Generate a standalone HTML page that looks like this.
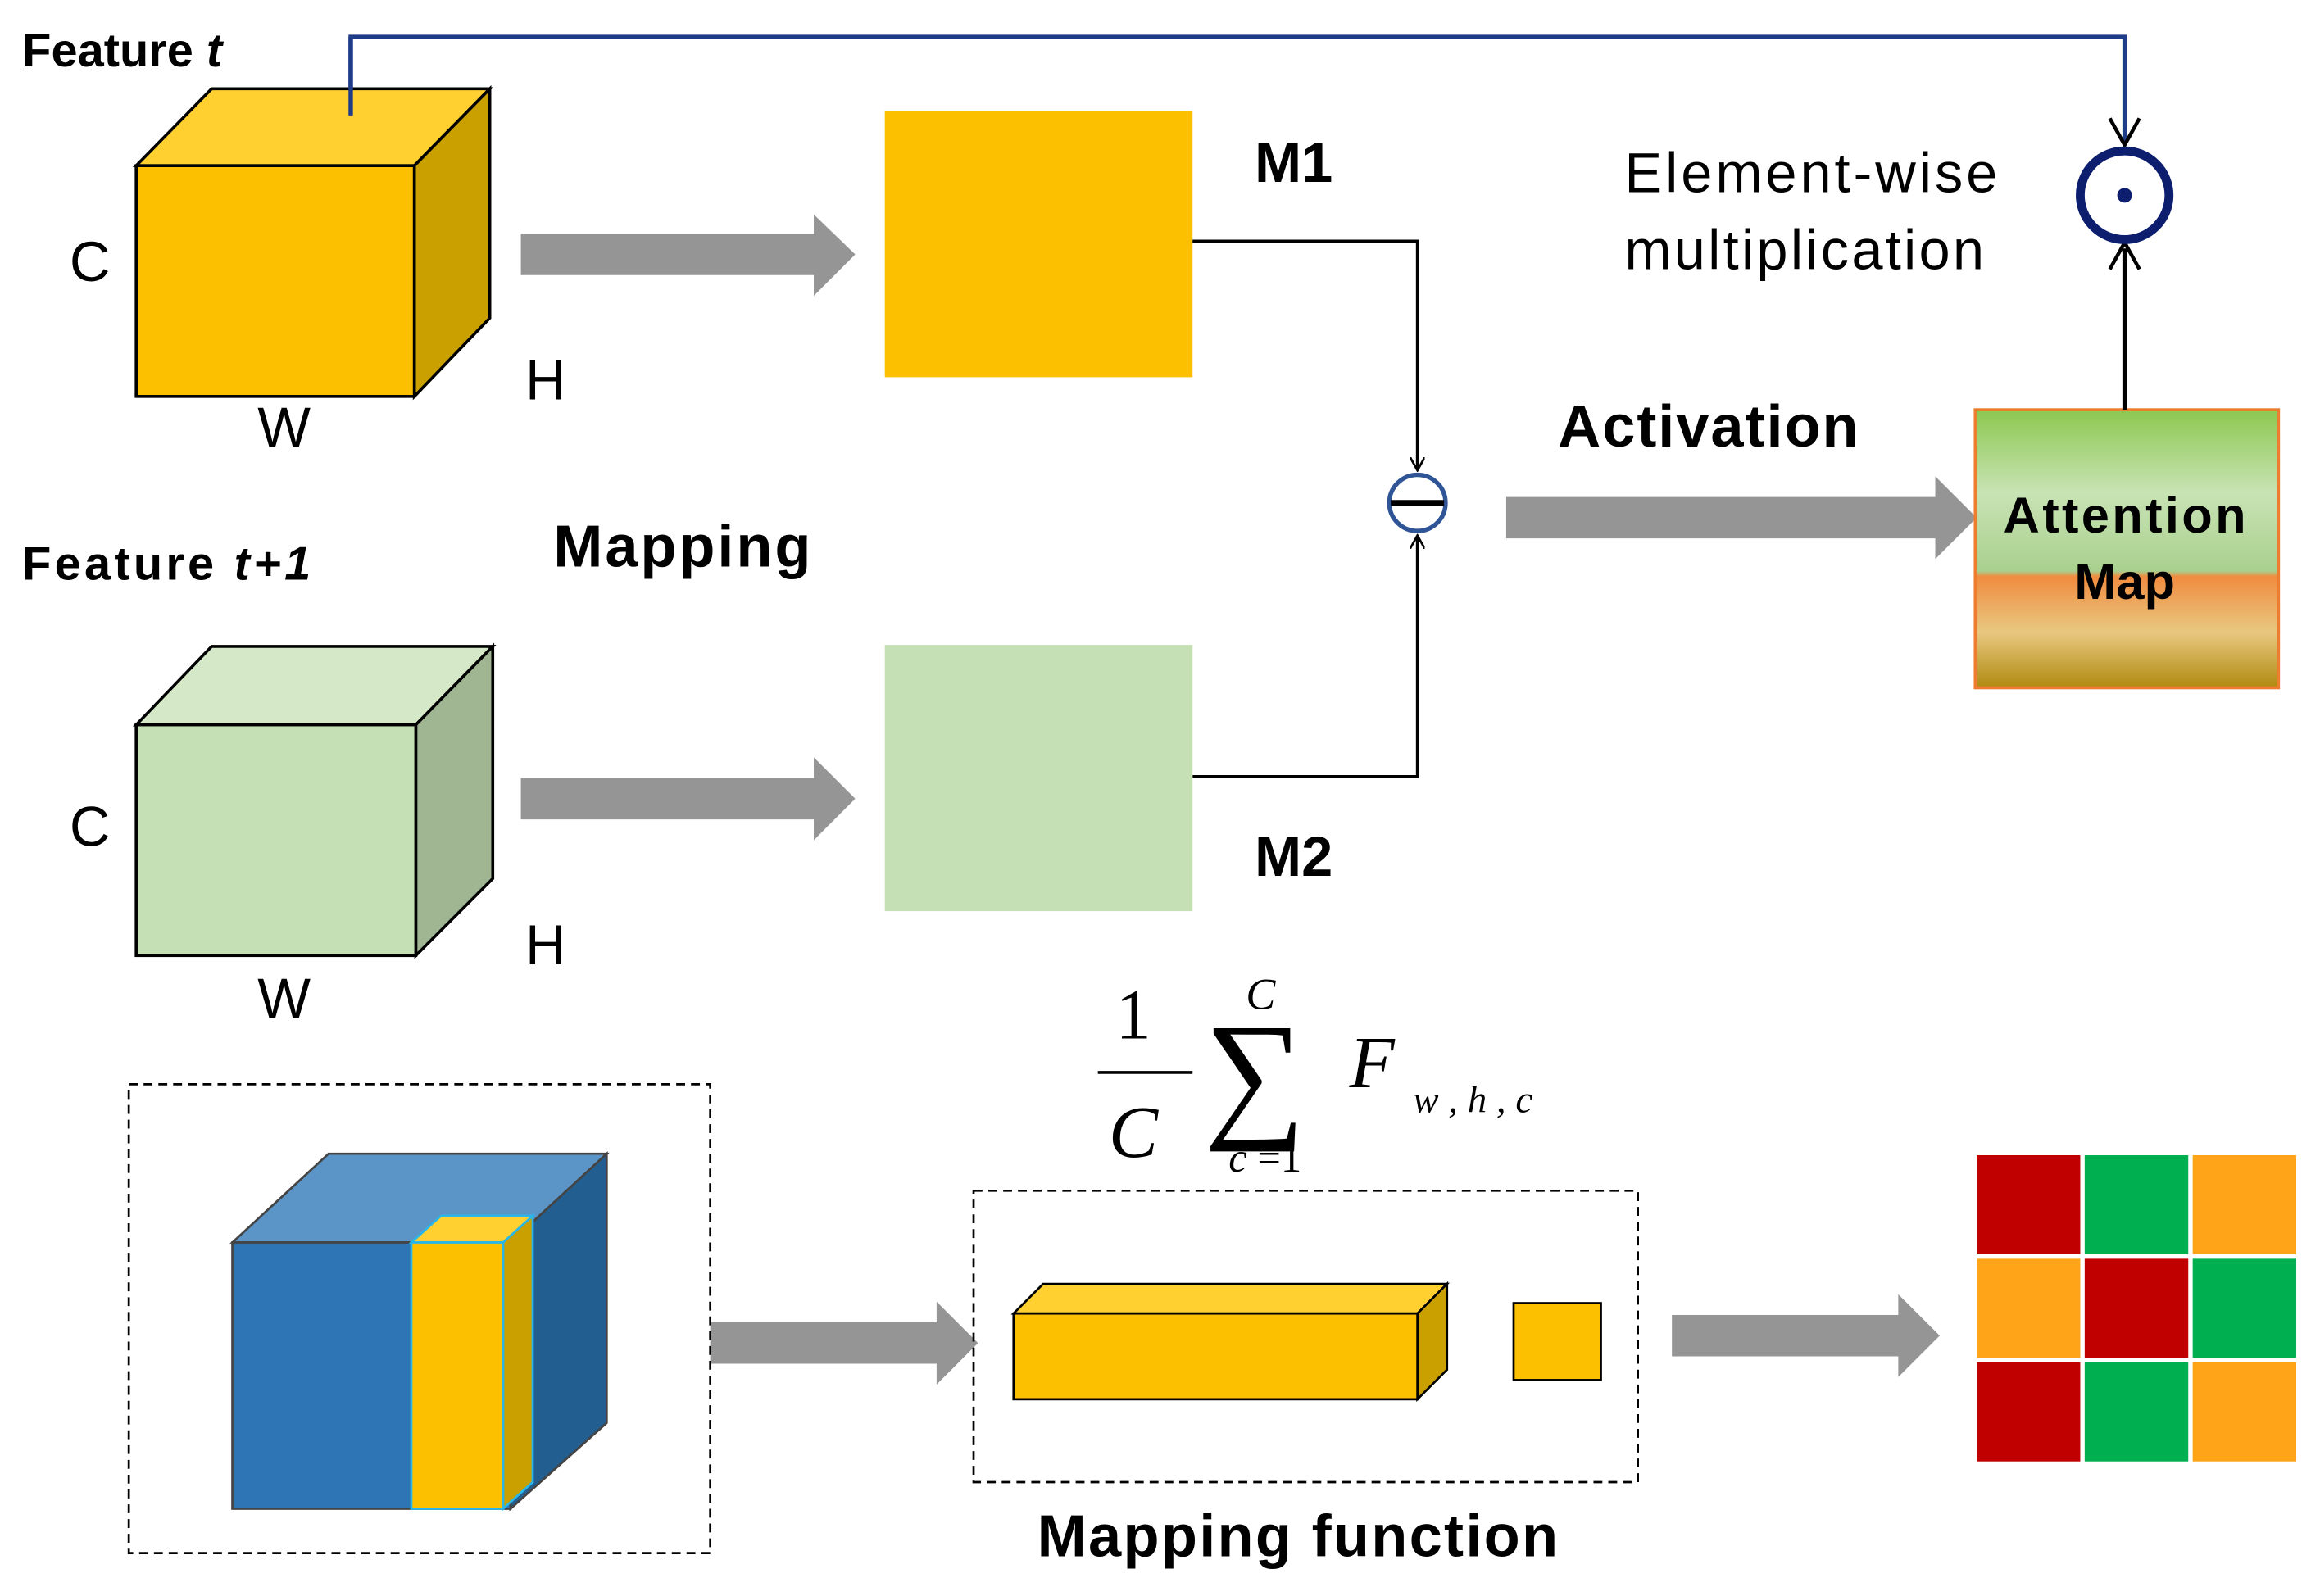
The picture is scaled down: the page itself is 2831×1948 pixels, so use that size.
<!DOCTYPE html>
<html><head><meta charset="utf-8"><style>
html,body{margin:0;padding:0;background:#fff}
svg{display:block}
text{font-family:"Liberation Sans",Arial,sans-serif}
text.m{font-family:"Liberation Serif","DejaVu Serif",serif}
</style></head><body>
<svg width="2831" height="1948" viewBox="0 0 1568 1079" xmlns="http://www.w3.org/2000/svg">
<defs>
<linearGradient id="att" x1="0" y1="0" x2="0" y2="1">
<stop offset="0" stop-color="#8CC850"/><stop offset="0.3" stop-color="#C8E3B4"/>
<stop offset="0.58" stop-color="#A9D08E"/><stop offset="0.6" stop-color="#F08C40"/>
<stop offset="0.8" stop-color="#E8C880"/><stop offset="1" stop-color="#B08A10"/>
</linearGradient>
<marker id="ah" markerWidth="10" markerHeight="10" refX="9" refY="5" orient="auto" markerUnits="userSpaceOnUse"><path d="M0,0 L9,5 L0,10" fill="none" stroke="#000" stroke-width="1.5"/></marker>
</defs>
<g fill="none" stroke="#000">
<polyline points="237,78 237,25 1436,25 1436,96" stroke="#1F3C88" stroke-width="3"/>
<path d="M1426,80 L1436,98 L1446,80" stroke="#000" stroke-width="2.5"/>
</g>
<text x="15" y="45" font-size="32" font-weight="bold">Feature <tspan font-style="italic">t</tspan></text>
<polygon points="92,112 280,112 331,60 143,60" fill="#FFD030" stroke="#000" stroke-width="2"/>
<polygon points="280,112 331,60 331,215 280,268" fill="#C9A000" stroke="#000" stroke-width="2"/>
<rect x="92" y="112" width="188" height="156" fill="#FDC000" stroke="#000" stroke-width="2"/>
<line x1="237" y1="25" x2="237" y2="78" stroke="#1F3C88" stroke-width="3"/>
<text x="47" y="190" font-size="38">C</text>
<text x="174" y="302" font-size="38">W</text>
<text x="355" y="270" font-size="38">H</text>
<g fill="#959595">
<polygon points="352,158 550,158 550,145 578,172 550,200 550,186 352,186"/>
<polygon points="352,526 550,526 550,512 578,540 550,568 550,554 352,554"/>
<polygon points="1018,336 1308,336 1308,322 1336,350 1308,378 1308,364 1018,364"/>
<polygon points="480,894 633,894 633,880 661,908 633,936 633,922 480,922"/>
<polygon points="1130,889 1283,889 1283,875 1311,903 1283,931 1283,917 1130,917"/>
</g>
<rect x="598" y="75" width="208" height="180" fill="#FDC000"/>
<text x="848" y="123" font-size="38" font-weight="bold">M1</text>
<polyline points="806,163 958,163 958,318" fill="none" stroke="#000" stroke-width="2" marker-end="url(#ah)"/>
<polyline points="806,525 958,525 958,362" fill="none" stroke="#000" stroke-width="2" marker-end="url(#ah)"/>
<circle cx="958" cy="340" r="19" fill="#fff" stroke="#2F5597" stroke-width="3"/>
<line x1="940" y1="340" x2="976" y2="340" stroke="#000" stroke-width="4"/>
<text x="15" y="392" font-size="32" font-weight="bold" textLength="195">Feature <tspan font-style="italic">t+1</tspan></text>
<polygon points="92,490 281,490 333,437 143,437" fill="#D5E8C8" stroke="#000" stroke-width="2"/>
<polygon points="281,490 333,437 333,594 281,646" fill="#A0B592" stroke="#000" stroke-width="2"/>
<rect x="92" y="490" width="189" height="156" fill="#C5E0B4" stroke="#000" stroke-width="2"/>
<text x="47" y="572" font-size="38">C</text>
<text x="174" y="688" font-size="38">W</text>
<text x="355" y="652" font-size="38">H</text>
<text x="374" y="383" font-size="40" font-weight="bold" textLength="174">Mapping</text>
<rect x="598" y="436" width="208" height="180" fill="#C5E0B4"/>
<text x="848" y="592" font-size="38" font-weight="bold">M2</text>
<text x="1053" y="302" font-size="40" font-weight="bold" textLength="203">Activation</text>
<rect x="1335" y="277" width="205" height="188" fill="url(#att)" stroke="#ED7D31" stroke-width="2"/>
<text x="1436" y="360" font-size="34" font-weight="bold" text-anchor="middle" textLength="164">Attention</text>
<text x="1436" y="405" font-size="34" font-weight="bold" text-anchor="middle">Map</text>
<line x1="1436" y1="277" x2="1436" y2="168" stroke="#000" stroke-width="3"/>
<path d="M1426,182 L1436,164 L1446,182" fill="none" stroke="#000" stroke-width="2.5"/>
<circle cx="1436" cy="132" r="30" fill="#fff" stroke="#0D1E6E" stroke-width="6"/>
<circle cx="1436" cy="132" r="5" fill="#0D1E6E"/>
<text x="1098" y="130" font-size="38" textLength="252">Element-wise</text>
<text x="1098" y="182" font-size="38" textLength="243">multiplication</text>
<text class="m" x="766" y="702" font-size="48" text-anchor="middle">1</text>
<line x1="742" y1="725" x2="806" y2="725" stroke="#000" stroke-width="2"/>
<text class="m" x="766" y="782" font-size="50" text-anchor="middle" font-style="italic">C</text>
<text class="m" x="848" y="758" font-size="96" text-anchor="middle">∑</text>
<text class="m" x="852" y="682" font-size="30" text-anchor="middle" font-style="italic">C</text>
<text class="m" x="855" y="792" font-size="28" text-anchor="middle"><tspan font-style="italic">c</tspan> =1</text>
<text class="m" x="912" y="735" font-size="50" font-style="italic">F</text>
<text class="m" x="955" y="752" font-size="26" font-style="italic">w , h , c</text>
<rect x="87" y="733" width="393" height="317" fill="none" stroke="#000" stroke-width="1.5" stroke-dasharray="6,4"/>
<rect x="658" y="805" width="449" height="197" fill="none" stroke="#000" stroke-width="1.5" stroke-dasharray="6,4"/>
<polygon points="157,840 345,840 410,780 222,780" fill="#5B95C8" stroke="#444" stroke-width="1.5"/>
<polygon points="345,840 410,780 410,962 345,1020" fill="#235E91" stroke="#444" stroke-width="1.5"/>
<rect x="157" y="840" width="188" height="180" fill="#2E75B6" stroke="#444" stroke-width="1.5"/>
<polygon points="278,840 340,840 360,822 298,822" fill="#FFD030" stroke="#29B6E8" stroke-width="1.5"/>
<polygon points="340,840 360,822 360,1002 340,1020" fill="#C9A000" stroke="#29B6E8" stroke-width="1.5"/>
<rect x="278" y="840" width="62" height="180" fill="#FDC000" stroke="#29B6E8" stroke-width="1.5"/>
<polygon points="685,888 958,888 978,868 705,868" fill="#FFD030" stroke="#000" stroke-width="1.5"/>
<polygon points="958,888 978,868 978,926 958,946" fill="#C9A000" stroke="#000" stroke-width="1.5"/>
<rect x="685" y="888" width="273" height="58" fill="#FDC000" stroke="#000" stroke-width="1.5"/>
<rect x="1023" y="881" width="59" height="52" fill="#FDC000" stroke="#000" stroke-width="1.5"/>
<text x="877" y="1052" font-size="40" font-weight="bold" text-anchor="middle" textLength="352">Mapping function</text>
<rect x="1336" y="781" width="70" height="67" fill="#C00000"/>
<rect x="1409" y="781" width="70" height="67" fill="#00B050"/>
<rect x="1482" y="781" width="70" height="67" fill="#FFA318"/>
<rect x="1336" y="851" width="70" height="67" fill="#FFA318"/>
<rect x="1409" y="851" width="70" height="67" fill="#C00000"/>
<rect x="1482" y="851" width="70" height="67" fill="#00B050"/>
<rect x="1336" y="921" width="70" height="67" fill="#C00000"/>
<rect x="1409" y="921" width="70" height="67" fill="#00B050"/>
<rect x="1482" y="921" width="70" height="67" fill="#FFA318"/>
</svg>
</body></html>
